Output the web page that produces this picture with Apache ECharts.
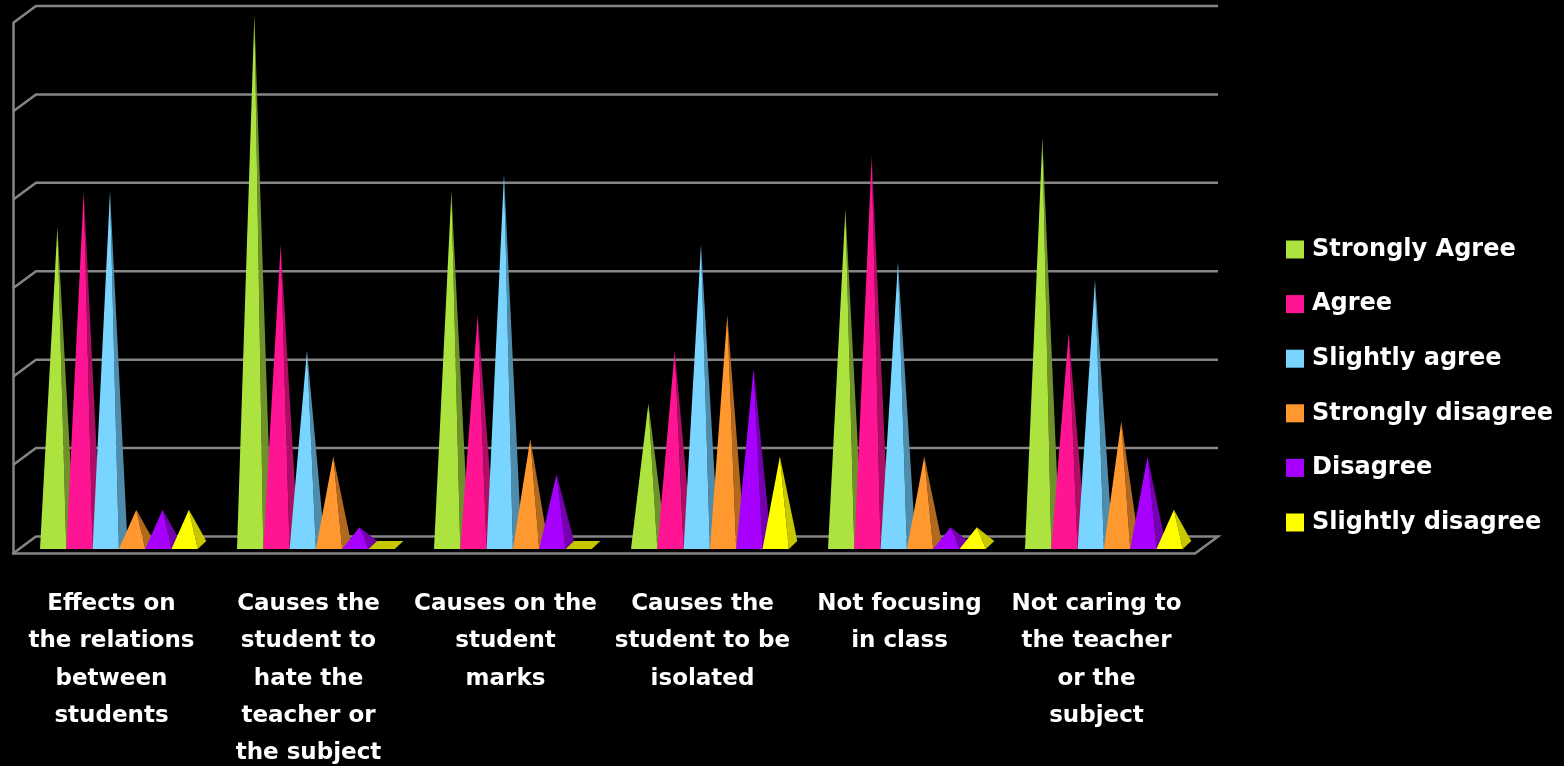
<!DOCTYPE html>
<html>
<head>
<meta charset="utf-8">
<style>html,body{margin:0;padding:0;background:#000}#c{width:1564px;height:766px}</style>
<script src="https://cdn.jsdelivr.net/npm/echarts@6/dist/echarts.min.js"></script>
</head>
<body>
<div id="c"></div>
<script>
const categories = [
  "Effects on\nthe relations\nbetween\nstudents",
  "Causes the\nstudent to\nhate the\nteacher or\nthe subject",
  "Causes on the\nstudent\nmarks",
  "Causes the\nstudent to be\nisolated",
  "Not focusing\nin class",
  "Not caring to\nthe teacher\nor the\nsubject"
];
const stronglyAgree    = [18, 30, 20, 8, 19, 23];
const agree            = [20, 17, 13, 11, 22, 12];
const slightlyAgree    = [20, 11, 21, 17, 16, 15];
const stronglyDisagree = [2, 5, 6, 13, 5, 7];
const disagree         = [2, 1, 4, 10, 1, 5];
const slightlyDisagree = [2, 0, 0, 5, 1, 2];
const yTicks = [0, 5, 10, 15, 20, 25, 30];

const seriesDefs = [
  {name: "Strongly Agree",    data: stronglyAgree,    color: "#ADE33F", side: "#6F9129"},
  {name: "Agree",             data: agree,            color: "#FF1493", side: "#AD0E64"},
  {name: "Slightly agree",    data: slightlyAgree,    color: "#79D4FF", side: "#4F8CAB"},
  {name: "Strongly disagree", data: stronglyDisagree, color: "#FF982E", side: "#B0691F"},
  {name: "Disagree",          data: disagree,         color: "#A800FF", side: "#7400B0"},
  {name: "Slightly disagree", data: slightlyDisagree, color: "#FFFF00", side: "#C8C800"}
];

const FONT = "DejaVu Sans";
const GRID = "#858585";
const LINE_W = 2.5;
const DX = 23, DY = 17;
const BW = 26.3, PDX = 8.5, PDY = 8;

function wallItem(params, api) {
  const cs = params.coordSys;
  const v = api.value(1);
  const y = api.coord([0, v])[1];
  const x0 = cs.x, x1 = cs.x + cs.width;
  const pts = [[x0, y], [x0 + DX, y - DY], [x1 + DX, y - DY]];
  if (v === 0) pts.push([x1, y]);
  return {type: "polyline", shape: {points: pts},
          style: {stroke: GRID, lineWidth: LINE_W, fill: null}};
}

function pyramidItem(si) {
  const def = seriesDefs[si];
  return function (params, api) {
    const cat = api.value(0), v = api.value(1);
    const cx = api.coord([cat, 0])[0];
    const baseY = api.coord([cat, 0])[1] - 4.5;
    const fl = cx - 71.5 + si * BW, fr = fl + BW;
    const br = [fr + PDX, baseY - PDY], bl = [fl + PDX, baseY - PDY];
    const apex = [fl + (BW + PDX) / 2, api.coord([cat, v])[1] - 8.5];
    const children = [];
    if (v === 0) {
      children.push({type: "polygon", shape: {points: [[fl, baseY], [fr, baseY], br, bl]},
                     style: {fill: def.side}});
    } else {
      children.push({type: "polygon", shape: {points: [[fr, baseY], br, apex]},
                     style: {fill: def.side}});
      children.push({type: "polygon", shape: {points: [[fl, baseY], [fr, baseY], apex]},
                     style: {fill: def.color}});
    }
    return {type: "group", children};
  };
}

const series = [{
  type: "custom", name: "walls", silent: true,
  data: yTicks.map(t => [0, t]),
  renderItem: wallItem
}].concat(seriesDefs.map((d, si) => ({
  type: "custom", name: d.name, silent: true,
  itemStyle: {color: d.color},
  data: d.data.map((v, i) => [i, v]),
  renderItem: pyramidItem(si)
})));

const chart = echarts.init(document.getElementById("c"), null, {renderer: "canvas"});
chart.setOption({
  animation: false,
  backgroundColor: "#000",
  grid: {left: 13, right: 369, top: 23, bottom: 212.5, containLabel: false, outerBoundsMode: "none"},
  xAxis: {
    type: "category", data: categories,
    axisLine: {show: true, lineStyle: {color: GRID, width: LINE_W}},
    axisTick: {show: false},
    axisLabel: {interval: 0, margin: 32, color: "#fff", fontFamily: FONT, fontWeight: "bold",
                fontSize: 23, lineHeight: 37.3, align: "center", verticalAlign: "top",
                hideOverlap: false}
  },
  yAxis: {
    type: "value", min: 0, max: 30, interval: 5,
    axisLine: {show: true, lineStyle: {color: GRID, width: LINE_W}},
    axisTick: {show: false}, axisLabel: {show: false}, splitLine: {show: false}
  },
  legend: {
    orient: "vertical", left: 1286, top: 237.5, padding: 0,
    data: seriesDefs.map(d => d.name),
    icon: "rect", itemWidth: 18, itemHeight: 18, itemGap: 30.6,
    selectedMode: false,
    textStyle: {color: "#fff", fontFamily: FONT, fontWeight: "bold", fontSize: 24, padding: [0, 0, 0, 3]}
  },
  series
});
</script>
</body>
</html>
